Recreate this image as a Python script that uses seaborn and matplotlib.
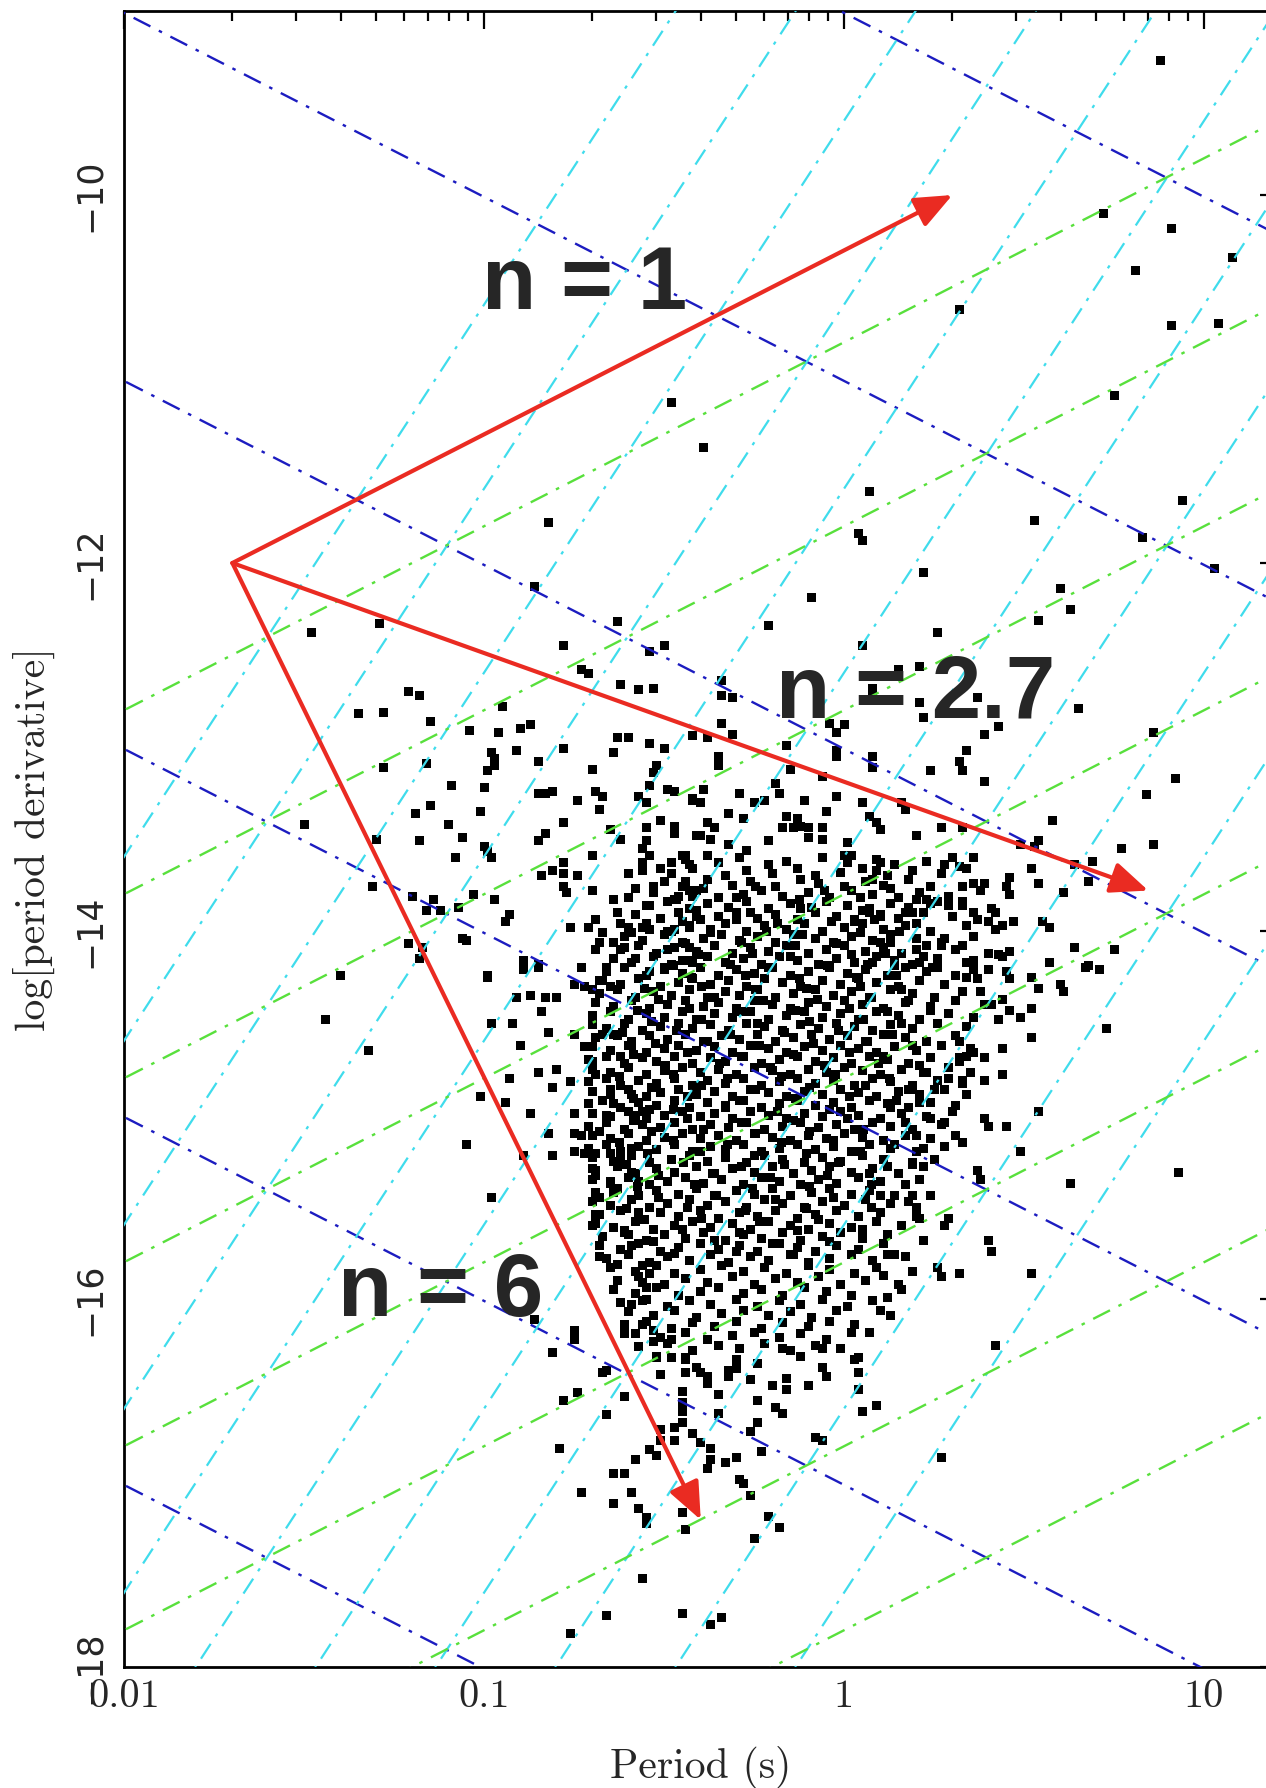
import numpy as np
import pandas as pd
import matplotlib
matplotlib.use("Agg")
import matplotlib.pyplot as plt
import seaborn as sns
from matplotlib.ticker import LogLocator, NullFormatter

# reference lines: magnetic field (G), spin-down power (erg/s), characteristic age (yr)
b_field = [1e15, 1e14, 1e13, 1e12, 1e11, 1e10]
edot = [1e29, 1e30, 1e31, 1e32, 1e33, 1e34, 1e35, 1e36, 1e37, 1e38, 1e39]
tau_yr = [1e3, 1e4, 1e5, 1e6, 1e7, 1e8, 1e9, 1e10]

# braking index arrows, all starting at P = 0.02 s, log Pdot = -12
arrow_start = (0.02, -12.0)
arrow_names = ["n = 1", "n = 2.7", "n = 6"]
arrow_end_p = [2.0, 7.0, 0.4]
arrow_end_pdot = [-10.0, -13.78, -17.2]
label_p = [0.19, 1.58, 0.076]
label_pdot = [-10.62, -12.84, -16.09]

# pulsars (log10 P, log10 Pdot) - outskirts
sparse_pts = [
    (-0.48,-11.13),(-0.39,-11.37),(-0.82,-11.78),
    (0.88,-9.27),(0.72,-10.10),(0.91,-10.18),(1.08,-10.34),(0.81,-10.41),(0.32,-10.62),(0.91,-10.71),
    (1.04,-10.70),(0.75,-11.09),(0.07,-11.61),(0.53,-11.77),(0.94,-11.66),(0.04,-11.84),(0.05,-11.88),(0.83,-11.86),
    (1.03,-12.03),(0.86,-12.92),(0.92,-13.17),(0.84,-13.26),(0.86,-13.53),(0.77,-13.55),(0.69,-13.62),
    (0.75,-14.10),(0.71,-14.21),(0.61,-14.33),(0.73,-14.53),(0.93,-15.31),
    (-1.48,-12.38),(-1.29,-12.33),(-0.86,-12.13),(-0.63,-12.32),(-0.78,-12.45),(-0.54,-12.48),(-0.50,-12.45),
    (-0.73,-12.58),(-0.71,-12.60),(-0.62,-12.66),(-0.57,-12.69),(-0.53,-12.68),(-1.21,-12.70),(-1.18,-12.72),
    (-1.35,-12.82),(-1.28,-12.81),(-1.15,-12.86),(-0.95,-12.78),(-1.04,-12.91),(-0.96,-12.92),(-0.90,-12.90),
    (-0.87,-12.88),(-0.63,-12.95),(-0.60,-12.95),(-0.54,-12.98),(-0.50,-13.01),(-0.42,-12.94),(-0.98,-13.03),
    (-0.97,-13.06),(-0.97,-13.10),(-0.99,-13.13),(-0.91,-13.02),(-0.85,-13.08),(-0.78,-13.01),(-0.64,-13.03),
    (-0.70,-13.12),(-0.52,-13.10),(-0.53,-13.14),(-1.16,-13.09),(-1.28,-13.11),(-1.09,-13.21),(-1.00,-13.22),
    (-0.85,-13.25),(-0.83,-13.25),(-0.81,-13.24),(-0.74,-13.29),(-0.69,-13.24),(-0.67,-13.27),(-0.68,-13.34),
    (-0.54,-13.21),(-0.49,-13.23),(-0.47,-13.24),(-0.57,-13.27),(-0.55,-13.30),(-0.42,-13.29),(-1.15,-13.32),
    (-1.19,-13.36),(-1.01,-13.35),(-1.50,-13.42),(-1.10,-13.42),(-0.78,-13.41),(-0.51,-13.40),(-0.55,-13.44),
    (-0.47,-13.43),(-0.47,-13.47),(-1.30,-13.50),(-1.18,-13.51),(-1.06,-13.49),(-0.85,-13.51),(-0.83,-13.47),
    (-0.65,-13.45),(-0.62,-13.50),(-0.55,-13.51),(-0.56,-13.55),(-0.54,-13.59),(-0.41,-13.48),(-1.00,-13.54),
    (-0.99,-13.57),(-0.98,-13.60),(-1.08,-13.60),(-0.70,-13.59),(-0.45,-13.59),(-0.48,-13.63),(-0.51,-13.66),
    (-0.56,-13.67),(-0.56,-13.63),(-0.78,-13.63),(-0.81,-13.67),(-0.78,-13.69),(-0.84,-13.70),(-0.74,-13.70),
    (-0.60,-13.69),(-0.78,-13.76),(-0.77,-13.79),(-0.70,-13.78),(-0.58,-13.77),(-0.53,-13.76),(-0.44,-13.73),
    (-0.43,-13.78),(-0.42,-13.81),(-1.31,-13.76),(-1.20,-13.81),(-1.14,-13.83),(-1.16,-13.89),(-1.12,-13.89),
    (-1.07,-13.87),(-1.03,-13.80),(-0.97,-13.83),(-0.93,-13.91),(-0.94,-13.95),(-0.64,-13.83),(-0.60,-13.82),
    (-0.54,-13.86),(-0.47,-13.83),(-0.63,-13.90),(-0.62,-13.96),(-0.76,-13.98),(-0.71,-13.98),(-0.69,-13.94),
    (-0.67,-14.01),(-0.68,-14.06),(-0.69,-14.10),(-0.59,-14.01),(-0.56,-13.98),(-0.54,-13.99),(-0.64,-14.06),
    (-0.61,-14.09),(-0.58,-14.15),(-0.49,-14.00),(-0.47,-13.99),(-0.43,-13.98),(-0.41,-13.92),(-0.49,-14.10),
    (-0.43,-14.09),(-1.06,-14.04),(-1.05,-14.05),(-1.21,-14.07),(-1.17,-14.09),(-1.18,-14.15),(-0.73,-14.20),
    (-0.66,-14.20),(-0.89,-14.16),(-0.89,-14.21),(-0.85,-14.18),(-0.45,-14.16),(-0.42,-14.17),(-0.54,-14.22),
    (-0.50,-14.20),(-0.99,-14.24),(-1.40,-14.24),
    (0.22,-12.05),(-0.09,-12.19),(-0.21,-12.34),(0.26,-12.38),(0.05,-12.45),(0.60,-12.14),(0.63,-12.25),
    (0.54,-12.31),(0.21,-12.56),(0.15,-12.58),(-0.34,-12.72),(-0.31,-12.73),(-0.34,-12.64),(0.08,-12.68),
    (0.08,-12.73),(0.21,-12.76),(0.22,-12.84),(0.37,-12.73),(0.65,-12.79),(0.43,-12.89),(0.39,-12.93),
    (-0.34,-12.87),(-0.31,-12.93),(-0.42,-12.94),(-0.38,-12.95),(-0.04,-12.87),(0.00,-12.88),(-0.02,-12.92),
    (-0.16,-12.99),(-0.15,-13.12),(-0.02,-13.02),(-0.02,-13.05),(0.08,-13.05),(0.08,-13.11),(-0.35,-13.05),
    (-0.35,-13.10),(0.34,-13.02),(0.32,-13.08),(0.33,-13.13),(0.24,-13.13),(0.39,-13.19),(-0.06,-13.16),
    (-0.19,-13.20),(-0.18,-13.25),(-0.29,-13.25),(-0.39,-13.23),(-0.42,-13.28),(-0.40,-13.30),(-0.25,-13.30),
    (-0.22,-13.29),(-0.11,-13.29),(-0.02,-13.27),(0.05,-13.30),(0.16,-13.30),(0.17,-13.34),(-0.05,-13.35),
    (-0.32,-13.36),(-0.28,-13.39),(-0.16,-13.38),(-0.13,-13.39),(-0.12,-13.43),(-0.10,-13.44),(-0.10,-13.49),
    (-0.14,-13.44),(-0.17,-13.44),(-0.38,-13.41),(-0.36,-13.44),(-0.40,-13.48),(-0.37,-13.50),(-0.32,-13.53),
    (-0.27,-13.56),(-0.21,-13.51),(-0.06,-13.44),(-0.06,-13.50),(0.07,-13.38),(0.09,-13.41),(0.10,-13.45),
    (0.20,-13.48),(0.27,-13.44),(0.33,-13.44),(0.58,-13.40),(0.54,-13.51),(0.53,-13.54),(0.49,-13.53),
    (0.36,-13.60),(0.64,-13.64),(0.68,-13.73),(0.61,-13.79),(0.52,-13.66),(0.54,-13.74),(0.46,-13.71),
    (0.45,-13.76),(0.46,-13.80),(0.39,-13.74),(0.33,-13.76),(0.28,-13.64),(0.32,-13.65),(0.10,-13.63),
    (0.09,-13.67),(0.08,-13.72),(0.01,-13.52),(0.00,-13.59),(0.02,-13.59),(-0.44,-13.59),(-0.38,-13.59),
    (-0.43,-13.64),(-0.35,-13.63),(0.20,-13.83),(0.24,-13.85),(0.29,-13.86),(0.33,-13.84),(0.36,-13.90),
    (0.40,-13.95),(0.42,-13.90),(0.44,-13.97),(0.47,-13.95),(0.57,-13.98),(0.55,-13.95),(0.28,-14.04),
    (0.33,-14.08),(0.36,-14.16),(0.43,-14.13),(0.46,-14.11),(0.57,-14.17),(0.64,-14.09),(0.67,-14.20),
    (0.17,-13.90),(0.20,-14.10),(0.21,-14.17),(0.26,-14.20),(0.10,-13.92),(0.07,-13.90),(0.03,-13.95),
    (0.10,-14.06),(0.08,-14.17),(0.14,-14.19),
    (-1.44,-14.48),(-1.32,-14.65),(-0.99,-14.25),(-1.05,-15.16),(-0.98,-15.45),(-1.01,-14.90),(-0.94,-14.93),
    (-0.87,-14.99),(-0.89,-15.22),(-0.81,-15.22),(-0.93,-14.80),(-0.98,-14.50),(-0.92,-14.50),(-0.91,-14.36),
    (-0.87,-14.35),(-0.83,-14.36),(-0.80,-14.36),(-0.84,-14.44),(-0.82,-14.55),(-0.90,-14.62),(-0.85,-14.77),
    (-0.80,-14.75),(-0.81,-14.85),(-0.76,-14.82),(-0.75,-14.99),(-0.75,-15.10),(-0.73,-15.11),(-0.82,-15.10),
    (-0.89,-14.20),(-0.85,-14.20),(-0.75,-14.29),(-0.72,-14.30),(-0.70,-14.32),(-0.68,-14.27),(-0.65,-14.30),
    (-0.75,-14.56),(-0.72,-14.63),(-0.70,-14.71),(-0.69,-14.78),(-0.67,-14.56),(-0.63,-14.57),(-0.62,-14.68),
    (-0.59,-14.62),(-0.70,-14.49),(-0.65,-14.86),(-0.64,-14.94),(-0.66,-15.00),(-0.68,-15.09),(-0.59,-14.89),
    (-0.58,-15.00),(-0.56,-14.98),(-0.54,-14.97),(-0.75,-15.20),(-0.72,-15.21),(-0.69,-15.21),(-0.65,-15.21),
    (-0.70,-15.29),(-0.69,-15.33),(-0.65,-15.36),(-0.64,-15.42),(-0.68,-15.45),(-0.69,-15.54),(-0.70,-15.60),
    (-0.59,-15.18),(-0.62,-15.24),(-0.59,-15.31),(-0.57,-15.36),(-0.57,-15.53),(-0.60,-15.65),(-0.59,-15.71),
    (-0.68,-15.77),(-0.63,-15.81),(-0.56,-15.82),(-0.54,-15.86),(-0.56,-15.91),(-0.55,-15.94),(-0.59,-16.03),
    (-0.56,-16.01),(-0.56,-16.14),(-0.53,-16.17),(-0.53,-16.23),(-0.52,-16.31),(-0.61,-16.19),(-0.48,-16.22),
    (-0.44,-16.32),(-0.66,-16.39),(-0.75,-16.17),(-0.75,-16.22),(-0.81,-16.29),(-0.86,-16.11),(-0.51,-16.41),
    (-0.44,-16.40),
    (0.60,-14.29),(0.54,-14.31),(0.68,-14.19),(0.52,-14.42),(0.49,-14.47),(0.52,-14.58),(0.44,-14.64),
    (0.44,-14.78),(0.39,-14.81),(0.54,-14.98),(0.39,-15.02),(0.40,-15.06),(0.45,-15.06),(0.49,-15.20),
    (0.63,-15.37),(0.37,-15.30),(0.38,-15.35),(0.34,-14.89),(0.33,-14.81),(0.40,-15.68),(0.41,-15.74),
    (0.52,-15.86),(0.32,-15.86),(0.26,-15.83),(0.27,-15.88),(0.42,-16.25),(0.21,-15.56),(0.28,-15.60),
    (0.29,-15.56),(0.22,-15.68),(0.18,-15.47),(0.20,-15.55),(0.11,-15.87),(0.12,-15.76),(0.14,-15.76),
    (0.07,-16.18),(0.04,-16.32),(0.12,-15.99),(0.10,-16.06),(0.43,-14.48),(0.46,-14.43),(0.44,-14.37),
    (0.38,-14.33),(0.41,-14.40),(0.36,-14.21),(0.34,-14.25),(0.45,-14.22),(0.46,-14.26),(0.52,-14.25),
    (0.32,-14.60),(0.34,-14.68),(0.36,-14.66),(0.32,-14.69),(0.35,-14.77),(0.39,-14.69),
    (0.21,-14.73),(0.23,-14.77),(0.25,-14.86),(0.29,-14.80),(0.19,-14.86),(0.21,-14.93),(0.24,-15.02),
    (0.28,-15.04),(0.31,-15.11),(0.33,-15.15),(0.20,-15.11),(0.22,-15.18),(0.25,-15.24),(0.19,-15.27),
    (0.21,-15.35),(0.24,-15.44),(0.19,-15.44),
    (-0.67,-16.40),(-0.74,-16.51),(-0.78,-16.55),(-0.61,-16.53),(-0.66,-16.63),(-0.79,-16.81),(-0.73,-17.05),
    (-0.64,-16.95),(-0.61,-16.95),(-0.59,-17.05),(-0.64,-17.11),(-0.57,-17.14),(-0.55,-17.19),(-0.55,-17.22),
    (-0.58,-16.87),(-0.54,-16.82),(-0.52,-16.85),(-0.51,-16.71),(-0.51,-16.77),(-0.47,-16.77),(-0.47,-16.70),
    (-0.45,-16.67),(-0.45,-16.61),(-0.45,-16.56),(-0.45,-16.50),(-0.51,-16.41),(-0.52,-16.32),(-0.48,-16.32),
    (-0.44,-16.33),(-0.41,-16.37),(-0.40,-16.40),(-0.38,-16.42),(-0.38,-16.46),(-0.35,-16.52),(-0.42,-16.73),
    (-0.40,-16.78),(-0.37,-16.81),(-0.37,-16.87),(-0.38,-16.92),(-0.33,-16.89),(-0.35,-16.62),(-0.30,-16.86),
    (-0.32,-16.39),(-0.32,-16.42),(-0.30,-16.38),(-0.26,-16.44),(-0.24,-16.35),(-0.30,-16.33),(-0.24,-16.55),
    (-0.24,-16.67),(-0.26,-16.72),(-0.29,-16.98),(-0.28,-17.00),(-0.26,-17.07),(-0.23,-16.83),(-0.21,-17.18),
    (-0.18,-17.24),(-0.25,-17.30),(-0.45,-17.16),(-0.44,-17.25),(-0.20,-16.47),(-0.16,-16.43),(-0.16,-16.49),
    (-0.10,-16.47),(-0.19,-16.59),(-0.17,-16.62),(-0.17,-16.27),(-0.12,-16.31),(-0.06,-16.27),(-0.06,-16.37),
    (-0.05,-16.42),(0.03,-16.33),(0.04,-16.40),(0.04,-16.49),(0.05,-16.61),(0.09,-16.58),(-0.08,-16.75),
    (-0.06,-16.77),(0.27,-16.86),(-0.56,-17.52),(-0.66,-17.72),(-0.45,-17.71),(-0.37,-17.77),(-0.34,-17.73),
    (-0.76,-17.82),
]

# pulsars (log10 P, log10 Pdot) - dense core, estimated row by row
core_pts = [
    (-0.44,-13.61),(-0.35,-13.63),(-0.29,-13.60),(-0.21,-13.64),(-0.16,-13.62),(-0.06,-13.60),(0.01,-13.63),(0.09,-13.61),(0.14,-13.64),(0.23,-13.62),(0.30,-13.60),
    (-0.48,-13.69),(-0.42,-13.66),(-0.33,-13.70),(-0.27,-13.67),(-0.20,-13.69),(-0.13,-13.66),(-0.08,-13.70),(-0.01,-13.68),(0.05,-13.66),(0.12,-13.70),(0.19,-13.67),(0.27,-13.69),(0.34,-13.66),
    (-0.50,-13.73),(-0.45,-13.76),(-0.38,-13.72),(-0.31,-13.75),(-0.26,-13.73),(-0.19,-13.76),(-0.12,-13.72),(-0.07,-13.74),(0.00,-13.76),(0.06,-13.73),(0.11,-13.75),(0.18,-13.72),(0.24,-13.76),(0.36,-13.74),
    (-0.53,-13.79),(-0.46,-13.81),(-0.41,-13.78),(-0.35,-13.82),(-0.28,-13.80),(-0.23,-13.78),(-0.17,-13.81),(-0.10,-13.79),(-0.04,-13.82),(0.02,-13.78),(0.08,-13.80),(0.15,-13.82),(0.21,-13.79),(0.29,-13.81),(0.38,-13.78),
    (-0.55,-13.86),(-0.49,-13.84),(-0.43,-13.88),(-0.38,-13.85),(-0.32,-13.87),(-0.27,-13.84),(-0.21,-13.88),(-0.15,-13.85),(-0.09,-13.87),(-0.05,-13.84),(0.01,-13.86),(0.07,-13.88),(0.13,-13.85),(0.18,-13.87),(0.26,-13.84),(0.33,-13.86),(0.41,-13.88),
    (-0.58,-13.91),(-0.51,-13.93),(-0.46,-13.90),(-0.40,-13.94),(-0.35,-13.92),(-0.30,-13.90),(-0.24,-13.93),(-0.19,-13.91),(-0.13,-13.94),(-0.08,-13.90),(-0.02,-13.92),(0.03,-13.94),(0.10,-13.91),(0.15,-13.93),(0.22,-13.90),(0.30,-13.92),(0.37,-13.94),
    (-0.60,-13.98),(-0.55,-13.96),(-0.48,-14.00),(-0.43,-13.97),(-0.37,-13.99),(-0.33,-13.96),(-0.27,-14.00),(-0.22,-13.97),(-0.16,-13.99),(-0.11,-13.96),(-0.06,-14.00),(0.00,-13.98),(0.05,-13.96),(0.11,-13.99),(0.17,-13.97),(0.24,-14.00),(0.34,-13.97),(0.42,-13.99),
    (-0.61,-14.03),(-0.56,-14.05),(-0.50,-14.02),(-0.45,-14.06),(-0.39,-14.04),(-0.34,-14.02),(-0.29,-14.05),(-0.24,-14.03),(-0.19,-14.06),(-0.14,-14.02),(-0.08,-14.04),(-0.03,-14.06),(0.02,-14.03),(0.08,-14.05),(0.13,-14.02),(0.20,-14.04),(0.27,-14.06),(0.36,-14.03),
    (-0.62,-14.10),(-0.57,-14.08),(-0.52,-14.12),(-0.47,-14.09),(-0.41,-14.11),(-0.36,-14.08),(-0.31,-14.12),(-0.26,-14.09),(-0.21,-14.11),(-0.16,-14.08),(-0.10,-14.12),(-0.05,-14.10),(0.00,-14.08),(0.06,-14.11),(0.11,-14.09),(0.16,-14.12),(0.23,-14.08),(0.31,-14.10),(0.40,-14.12),
    (-0.64,-14.15),(-0.59,-14.17),(-0.53,-14.14),(-0.48,-14.18),(-0.43,-14.16),(-0.38,-14.14),(-0.33,-14.17),(-0.28,-14.15),(-0.23,-14.18),(-0.18,-14.14),(-0.13,-14.16),(-0.07,-14.18),(-0.02,-14.15),(0.03,-14.17),(0.09,-14.14),(0.14,-14.16),(0.19,-14.18),(0.26,-14.15),(0.34,-14.17),(0.44,-14.14),
    (-0.66,-14.22),(-0.61,-14.20),(-0.55,-14.24),(-0.50,-14.21),(-0.45,-14.23),(-0.40,-14.20),(-0.35,-14.24),(-0.30,-14.21),(-0.25,-14.23),(-0.20,-14.20),(-0.15,-14.24),(-0.10,-14.22),(-0.04,-14.20),(0.01,-14.23),(0.06,-14.21),(0.12,-14.24),(0.17,-14.20),(0.23,-14.22),(0.31,-14.24),(0.40,-14.21),
    (-0.67,-14.27),(-0.62,-14.29),(-0.57,-14.26),(-0.51,-14.30),(-0.46,-14.28),(-0.42,-14.26),(-0.37,-14.29),(-0.32,-14.27),(-0.27,-14.30),(-0.22,-14.26),(-0.17,-14.28),(-0.12,-14.30),(-0.06,-14.27),(-0.01,-14.29),(0.04,-14.26),(0.09,-14.28),(0.15,-14.30),(0.21,-14.27),(0.28,-14.29),(0.37,-14.26),
    (-0.68,-14.34),(-0.63,-14.32),(-0.58,-14.36),(-0.53,-14.33),(-0.48,-14.35),(-0.43,-14.32),(-0.38,-14.36),(-0.33,-14.33),(-0.29,-14.35),(-0.24,-14.32),(-0.19,-14.36),(-0.14,-14.34),(-0.08,-14.32),(-0.03,-14.35),(0.02,-14.33),(0.07,-14.36),(0.13,-14.32),(0.19,-14.34),(0.25,-14.36),(0.33,-14.33),
    (-0.69,-14.39),(-0.64,-14.41),(-0.59,-14.38),(-0.54,-14.42),(-0.49,-14.40),(-0.44,-14.38),(-0.39,-14.41),(-0.35,-14.39),(-0.30,-14.42),(-0.25,-14.38),(-0.20,-14.40),(-0.15,-14.42),(-0.10,-14.39),(-0.05,-14.41),(0.00,-14.38),(0.05,-14.40),(0.11,-14.42),(0.17,-14.39),(0.24,-14.41),(0.31,-14.38),(0.39,-14.40),
    (-0.70,-14.46),(-0.65,-14.44),(-0.60,-14.48),(-0.55,-14.45),(-0.50,-14.47),(-0.45,-14.44),(-0.41,-14.48),(-0.36,-14.45),(-0.31,-14.47),(-0.26,-14.44),(-0.21,-14.48),(-0.16,-14.46),(-0.11,-14.44),(-0.06,-14.47),(-0.01,-14.45),(0.04,-14.48),(0.09,-14.44),(0.15,-14.46),(0.21,-14.48),(0.29,-14.45),(0.36,-14.47),
    (-0.70,-14.51),(-0.66,-14.53),(-0.61,-14.50),(-0.56,-14.54),(-0.51,-14.52),(-0.46,-14.50),(-0.42,-14.53),(-0.37,-14.51),(-0.32,-14.54),(-0.27,-14.50),(-0.22,-14.52),(-0.17,-14.54),(-0.12,-14.51),(-0.07,-14.53),(-0.02,-14.50),(0.03,-14.52),(0.08,-14.54),(0.13,-14.51),(0.19,-14.53),(0.26,-14.50),(0.34,-14.52),
    (-0.69,-14.58),(-0.64,-14.56),(-0.59,-14.60),(-0.54,-14.57),(-0.49,-14.59),(-0.44,-14.56),(-0.39,-14.60),(-0.34,-14.57),(-0.29,-14.59),(-0.24,-14.56),(-0.19,-14.60),(-0.14,-14.58),(-0.09,-14.56),(-0.04,-14.59),(0.01,-14.57),(0.06,-14.60),(0.11,-14.56),(0.17,-14.58),(0.23,-14.60),(0.31,-14.57),
    (-0.70,-14.63),(-0.65,-14.65),(-0.60,-14.62),(-0.55,-14.66),(-0.50,-14.64),(-0.46,-14.62),(-0.41,-14.65),(-0.36,-14.63),(-0.31,-14.66),(-0.26,-14.62),(-0.21,-14.64),(-0.16,-14.66),(-0.11,-14.63),(-0.06,-14.65),(-0.01,-14.62),(0.04,-14.64),(0.09,-14.66),(0.14,-14.63),(0.20,-14.65),(0.27,-14.62),(0.35,-14.64),
    (-0.71,-14.70),(-0.66,-14.68),(-0.61,-14.72),(-0.56,-14.69),(-0.52,-14.71),(-0.47,-14.68),(-0.42,-14.72),(-0.37,-14.69),(-0.33,-14.71),(-0.28,-14.68),(-0.23,-14.72),(-0.18,-14.70),(-0.13,-14.68),(-0.08,-14.71),(-0.03,-14.69),(0.02,-14.72),(0.07,-14.68),(0.12,-14.70),(0.18,-14.72),(0.24,-14.69),(0.32,-14.71),
    (-0.70,-14.75),(-0.65,-14.77),(-0.60,-14.74),(-0.55,-14.78),(-0.50,-14.76),(-0.45,-14.74),(-0.40,-14.77),(-0.35,-14.75),(-0.30,-14.78),(-0.25,-14.74),(-0.20,-14.76),(-0.15,-14.78),(-0.10,-14.75),(-0.05,-14.77),(0.00,-14.74),(0.05,-14.76),(0.10,-14.78),(0.16,-14.75),(0.22,-14.77),(0.29,-14.74),
    (-0.71,-14.82),(-0.66,-14.80),(-0.62,-14.84),(-0.57,-14.81),(-0.52,-14.83),(-0.47,-14.80),(-0.42,-14.84),(-0.38,-14.81),(-0.33,-14.83),(-0.28,-14.80),(-0.23,-14.84),(-0.18,-14.82),(-0.13,-14.80),(-0.08,-14.83),(-0.03,-14.81),(0.03,-14.84),(0.08,-14.80),(0.13,-14.82),(0.19,-14.84),(0.26,-14.81),(0.33,-14.83),
    (-0.70,-14.87),(-0.65,-14.89),(-0.60,-14.86),(-0.55,-14.90),(-0.51,-14.88),(-0.46,-14.86),(-0.41,-14.89),(-0.36,-14.87),(-0.31,-14.90),(-0.26,-14.86),(-0.21,-14.88),(-0.16,-14.90),(-0.11,-14.87),(-0.06,-14.89),(-0.01,-14.86),(0.04,-14.88),(0.09,-14.90),(0.15,-14.87),(0.21,-14.89),(0.28,-14.86),
    (-0.71,-14.94),(-0.67,-14.92),(-0.62,-14.96),(-0.57,-14.93),(-0.52,-14.95),(-0.47,-14.92),(-0.43,-14.96),(-0.38,-14.93),(-0.33,-14.95),(-0.28,-14.92),(-0.23,-14.96),(-0.18,-14.94),(-0.13,-14.92),(-0.08,-14.95),(-0.03,-14.93),(0.02,-14.96),(0.07,-14.92),(0.12,-14.94),(0.18,-14.96),(0.24,-14.93),(0.31,-14.95),
    (-0.70,-14.99),(-0.65,-15.01),(-0.60,-14.98),(-0.55,-15.02),(-0.50,-15.00),(-0.45,-14.98),(-0.40,-15.01),(-0.36,-14.99),(-0.31,-15.02),(-0.26,-14.98),(-0.21,-15.00),(-0.16,-15.02),(-0.11,-14.99),(-0.06,-15.01),(-0.01,-14.98),(0.04,-15.00),(0.10,-15.02),(0.16,-14.99),(0.23,-15.01),(0.30,-14.98),
    (-0.71,-15.06),(-0.66,-15.04),(-0.61,-15.08),(-0.56,-15.05),(-0.51,-15.07),(-0.47,-15.04),(-0.42,-15.08),(-0.37,-15.05),(-0.32,-15.07),(-0.27,-15.04),(-0.22,-15.08),(-0.17,-15.06),(-0.12,-15.04),(-0.07,-15.07),(-0.02,-15.05),(0.03,-15.08),(0.08,-15.04),(0.13,-15.06),(0.19,-15.08),(0.27,-15.05),
    (-0.70,-15.11),(-0.65,-15.13),(-0.60,-15.10),(-0.55,-15.14),(-0.50,-15.12),(-0.45,-15.10),(-0.40,-15.13),(-0.35,-15.11),(-0.30,-15.14),(-0.25,-15.10),(-0.20,-15.12),(-0.15,-15.14),(-0.10,-15.11),(-0.05,-15.13),(0.00,-15.10),(0.05,-15.12),(0.11,-15.14),(0.17,-15.11),(0.24,-15.13),
    (-0.71,-15.18),(-0.66,-15.16),(-0.62,-15.20),(-0.57,-15.17),(-0.52,-15.19),(-0.47,-15.16),(-0.42,-15.20),(-0.37,-15.17),(-0.33,-15.19),(-0.28,-15.16),(-0.23,-15.20),(-0.18,-15.18),(-0.13,-15.16),(-0.08,-15.19),(-0.03,-15.17),(0.02,-15.20),(0.07,-15.16),(0.13,-15.18),(0.20,-15.20),(0.28,-15.17),
    (-0.70,-15.23),(-0.64,-15.25),(-0.59,-15.22),(-0.54,-15.26),(-0.48,-15.24),(-0.43,-15.22),(-0.38,-15.25),(-0.33,-15.23),(-0.27,-15.26),(-0.22,-15.22),(-0.17,-15.24),(-0.11,-15.26),(-0.06,-15.23),(-0.01,-15.25),(0.05,-15.22),(0.11,-15.24),(0.19,-15.26),
    (-0.69,-15.30),(-0.63,-15.28),(-0.58,-15.32),(-0.52,-15.29),(-0.47,-15.31),(-0.41,-15.28),(-0.36,-15.32),(-0.31,-15.29),(-0.25,-15.31),(-0.20,-15.28),(-0.14,-15.32),(-0.09,-15.30),(-0.04,-15.28),(0.02,-15.31),(0.08,-15.29),(0.15,-15.32),(0.22,-15.28),
    (-0.70,-15.35),(-0.65,-15.37),(-0.60,-15.34),(-0.54,-15.38),(-0.49,-15.36),(-0.44,-15.34),(-0.39,-15.37),(-0.34,-15.35),(-0.28,-15.38),(-0.23,-15.34),(-0.18,-15.36),(-0.12,-15.38),(-0.07,-15.35),(-0.02,-15.37),(0.04,-15.34),(0.10,-15.36),(0.17,-15.38),
    (-0.69,-15.42),(-0.63,-15.40),(-0.57,-15.44),(-0.52,-15.41),(-0.46,-15.43),(-0.41,-15.40),(-0.36,-15.44),(-0.30,-15.41),(-0.25,-15.43),(-0.20,-15.40),(-0.15,-15.44),(-0.09,-15.42),(-0.04,-15.40),(0.02,-15.43),(0.07,-15.41),(0.14,-15.44),
    (-0.70,-15.47),(-0.65,-15.49),(-0.59,-15.46),(-0.54,-15.50),(-0.49,-15.48),(-0.43,-15.46),(-0.38,-15.49),(-0.33,-15.47),(-0.27,-15.50),(-0.22,-15.46),(-0.17,-15.48),(-0.11,-15.50),(-0.06,-15.47),(0.00,-15.49),(0.06,-15.46),(0.13,-15.48),(0.20,-15.50),
    (-0.68,-15.54),(-0.62,-15.52),(-0.57,-15.56),(-0.51,-15.53),(-0.46,-15.55),(-0.40,-15.52),(-0.35,-15.56),(-0.29,-15.53),(-0.24,-15.55),(-0.19,-15.52),(-0.13,-15.56),(-0.08,-15.54),(-0.02,-15.52),(0.04,-15.55),(0.10,-15.53),
    (-0.69,-15.59),(-0.64,-15.61),(-0.58,-15.58),(-0.53,-15.62),(-0.47,-15.60),(-0.42,-15.58),(-0.37,-15.61),(-0.31,-15.59),(-0.26,-15.62),(-0.21,-15.58),(-0.15,-15.60),(-0.10,-15.62),(-0.04,-15.59),(0.02,-15.61),(0.09,-15.58),(0.16,-15.60),
    (-0.67,-15.66),(-0.61,-15.64),(-0.55,-15.68),(-0.50,-15.65),(-0.44,-15.67),(-0.39,-15.64),(-0.33,-15.68),(-0.28,-15.65),(-0.23,-15.67),(-0.17,-15.64),(-0.12,-15.68),(-0.06,-15.66),(-0.01,-15.64),(0.05,-15.67),(0.12,-15.65),
    (-0.68,-15.71),(-0.62,-15.73),(-0.57,-15.70),(-0.51,-15.74),(-0.46,-15.72),(-0.40,-15.70),(-0.35,-15.73),(-0.29,-15.71),(-0.24,-15.74),(-0.18,-15.70),(-0.13,-15.72),(-0.08,-15.74),(-0.02,-15.71),(0.04,-15.73),(0.11,-15.70),
    (-0.66,-15.78),(-0.60,-15.76),(-0.54,-15.80),(-0.49,-15.77),(-0.43,-15.79),(-0.37,-15.76),(-0.32,-15.80),(-0.26,-15.77),(-0.21,-15.79),(-0.15,-15.76),(-0.10,-15.80),(-0.04,-15.78),(0.02,-15.76),(0.08,-15.79),(0.17,-15.77),
    (-0.65,-15.83),(-0.58,-15.85),(-0.52,-15.82),(-0.47,-15.86),(-0.40,-15.84),(-0.34,-15.82),(-0.28,-15.85),(-0.22,-15.83),(-0.16,-15.86),(-0.10,-15.82),(-0.04,-15.84),(0.03,-15.86),(0.09,-15.83),(0.19,-15.85),
    (-0.63,-15.90),(-0.57,-15.88),(-0.50,-15.92),(-0.44,-15.89),(-0.38,-15.91),(-0.31,-15.88),(-0.25,-15.92),(-0.19,-15.89),(-0.13,-15.91),(-0.07,-15.88),(-0.01,-15.92),(0.06,-15.90),(0.15,-15.92),
    (-0.64,-15.95),(-0.58,-15.97),(-0.52,-15.94),(-0.46,-15.98),(-0.40,-15.96),(-0.35,-15.94),(-0.28,-15.97),(-0.23,-15.95),(-0.17,-15.98),(-0.11,-15.94),(-0.05,-15.96),(0.02,-15.98),(0.16,-15.95),
    (-0.62,-16.02),(-0.55,-16.00),(-0.49,-16.04),(-0.43,-16.01),(-0.37,-16.03),(-0.30,-16.00),(-0.24,-16.04),(-0.18,-16.01),(-0.12,-16.03),(-0.06,-16.00),(0.01,-16.04),(0.08,-16.01),
    (-0.60,-16.07),(-0.53,-16.09),(-0.47,-16.06),(-0.41,-16.10),(-0.34,-16.08),(-0.28,-16.06),(-0.21,-16.09),(-0.15,-16.07),(-0.09,-16.10),(-0.02,-16.06),(0.13,-16.09),
    (-0.61,-16.14),(-0.55,-16.12),(-0.48,-16.16),(-0.42,-16.13),(-0.36,-16.15),(-0.30,-16.12),(-0.23,-16.16),(-0.17,-16.13),(-0.10,-16.15),(-0.04,-16.12),(0.03,-16.14),
    (-0.58,-16.19),(-0.51,-16.21),(-0.44,-16.18),(-0.38,-16.22),(-0.31,-16.20),(-0.25,-16.18),(-0.18,-16.21),(-0.12,-16.19),(-0.05,-16.22),(0.02,-16.18),
    (-0.57,-16.26),(-0.49,-16.24),(-0.42,-16.28),(-0.35,-16.25),(-0.29,-16.27),(-0.22,-16.24),(-0.15,-16.28),(-0.08,-16.25),(-0.01,-16.27),
]

# extra pulsars filling the darkest part of the core
core_extra_pts = [
    (-0.39,-13.77),(-0.245,-13.76),(-0.055,-13.78),(0.13,-13.77),
    (-0.465,-13.83),(-0.30,-13.82),(-0.125,-13.83),(0.045,-13.82),(0.23,-13.83),
    (-0.41,-13.89),(-0.26,-13.90),(-0.12,-13.88),(0.05,-13.89),(0.19,-13.90),
    (-0.45,-13.95),(-0.30,-13.94),(-0.185,-13.96),(-0.035,-13.95),(0.085,-13.94),(0.20,-13.96),
    (-0.37,-14.01),(-0.215,-14.00),(-0.115,-14.02),(0.045,-14.01),(0.155,-14.00),
    (-0.44,-14.07),(-0.285,-14.06),(-0.135,-14.08),(-0.02,-14.07),(0.13,-14.06),(0.27,-14.08),
    (-0.405,-14.13),(-0.255,-14.12),(-0.15,-14.14),(0.02,-14.13),(0.115,-14.12),(0.22,-14.14),
    (-0.475,-14.19),(-0.315,-14.18),(-0.21,-14.20),(-0.045,-14.19),(0.065,-14.18),(0.245,-14.20),
    (-0.425,-14.25),(-0.275,-14.24),(-0.125,-14.26),(0.035,-14.25),(0.145,-14.24),
    (-0.555,-14.31),(-0.395,-14.30),(-0.245,-14.32),(-0.105,-14.31),(0.045,-14.30),(0.16,-14.32),
    (-0.515,-14.37),(-0.36,-14.36),(-0.225,-14.38),(-0.075,-14.37),(0.075,-14.36),(0.18,-14.38),
    (-0.575,-14.43),(-0.43,-14.42),(-0.285,-14.44),(-0.135,-14.43),(0.015,-14.42),(0.12,-14.44),(0.24,-14.43),
    (-0.535,-14.49),(-0.395,-14.48),(-0.24,-14.50),(-0.095,-14.49),(0.055,-14.48),(0.16,-14.50),
    (-0.615,-14.55),(-0.465,-14.54),(-0.315,-14.56),(-0.165,-14.55),(-0.015,-14.54),(0.135,-14.56),
    (-0.525,-14.61),(-0.38,-14.60),(-0.235,-14.62),(-0.085,-14.61),(0.065,-14.60),(0.19,-14.62),
    (-0.585,-14.67),(-0.435,-14.66),(-0.285,-14.68),(-0.14,-14.67),(0.015,-14.66),(0.11,-14.68),
    (-0.495,-14.73),(-0.345,-14.72),(-0.205,-14.74),(-0.055,-14.73),(0.095,-14.72),
    (-0.625,-14.79),(-0.475,-14.78),(-0.325,-14.80),(-0.175,-14.79),(-0.025,-14.78),(0.125,-14.80),
    (-0.535,-14.85),(-0.395,-14.84),(-0.245,-14.86),(-0.095,-14.85),(0.06,-14.84),(0.18,-14.86),
    (-0.585,-14.91),(-0.435,-14.90),(-0.29,-14.92),(-0.135,-14.91),(0.015,-14.90),(0.145,-14.92),
    (-0.475,-14.97),(-0.33,-14.96),(-0.185,-14.98),(-0.04,-14.97),(0.13,-14.96),
    (-0.585,-15.03),(-0.435,-15.02),(-0.285,-15.04),(-0.14,-15.03),(0.01,-15.02),(0.17,-15.04),
    (-0.535,-15.09),(-0.39,-15.08),(-0.245,-15.10),(-0.095,-15.09),(0.055,-15.08),
    (-0.625,-15.15),(-0.475,-15.14),(-0.325,-15.16),(-0.175,-15.15),(-0.03,-15.14),(0.14,-15.16),
    (-0.545,-15.21),(-0.40,-15.20),(-0.25,-15.22),(-0.105,-15.21),(0.045,-15.20),
    (-0.605,-15.27),(-0.445,-15.26),(-0.285,-15.28),(-0.165,-15.27),(-0.015,-15.26),(0.12,-15.28),
    (-0.515,-15.33),(-0.365,-15.32),(-0.205,-15.34),(-0.045,-15.33),(0.07,-15.32),
    (-0.575,-15.39),(-0.415,-15.38),(-0.255,-15.40),(-0.095,-15.39),(0.075,-15.38),
    (-0.515,-15.45),(-0.355,-15.44),(-0.19,-15.46),(-0.03,-15.45),(0.10,-15.44),
    (-0.605,-15.51),(-0.435,-15.50),(-0.275,-15.52),(-0.105,-15.51),(0.075,-15.50),
    (-0.555,-15.57),(-0.395,-15.56),(-0.235,-15.58),(-0.07,-15.57),
    (-0.61,-15.63),(-0.45,-15.62),(-0.29,-15.64),(-0.13,-15.63),(0.05,-15.62),
    (-0.53,-15.69),(-0.36,-15.68),(-0.20,-15.70),(-0.04,-15.69),
    (-0.47,-15.75),(-0.30,-15.74),(-0.14,-15.76),
]

blue, cyan, green, red = "#1c1cc0", "#3fdcec", "#58e03c", "#ea2b22"

sns.set_theme(style="white")
plt.rcParams["font.family"] = ["DejaVu Sans"]

fig = plt.figure(figsize=(12.66, 17.88), dpi=100)
ax = fig.add_axes([0.09795, 0.06767, 0.91114, 0.92617])

pulsars = pd.DataFrame(sparse_pts + core_pts + core_extra_pts, columns=["logp", "logpdot"])
pulsars["P"] = 10 ** pulsars["logp"]
sns.scatterplot(data=pulsars, x="P", y="logpdot", marker="s", s=42, color="black",
                edgecolor="none", linewidth=0, ax=ax, zorder=2, legend=False)

ax.set_xscale("log")
p_line = np.array([0.005, 30.0])
dash = (0, (8, 4, 1.5, 4))
for b in b_field:
    ax.plot(p_line, np.log10((b / 3.2e19) ** 2 / p_line), color=blue, ls=dash, lw=1.7, zorder=3)
for e in edot:
    ax.plot(p_line, np.log10(e * p_line ** 3 / (4 * np.pi ** 2 * 1e45)), color=cyan, ls=dash, lw=1.6, zorder=3)
for t in tau_yr:
    ax.plot(p_line, np.log10(p_line / (2 * t * 3.156e7)), color=green, ls=dash, lw=1.7, zorder=3)

for name, pe, ye, pl, yl in zip(arrow_names, arrow_end_p, arrow_end_pdot, label_p, label_pdot):
    ax.annotate("", xy=(pe, ye), xytext=arrow_start,
                arrowprops=dict(arrowstyle="-|>,head_length=0.5,head_width=0.21", mutation_scale=46,
                                color=red, lw=3.0, shrinkA=0, shrinkB=0), zorder=5)
    ax.text(pl, yl, name, fontsize=64, fontweight="bold", family=["Liberation Sans", "DejaVu Sans"],
            ha="center", va="baseline", zorder=6)

ax.set_xlim(0.01, 16)
ax.set_ylim(-18, -9)
ax.set_xticks([0.01, 0.1, 1, 10])
ax.set_xticklabels(["0.01", "0.1", "1", "10"], fontsize=29, family="cmr10")
ax.xaxis.set_minor_locator(LogLocator(base=10, subs=np.arange(2, 10)))
ax.xaxis.set_minor_formatter(NullFormatter())
ax.set_yticks([-18, -16, -14, -12, -10])
ax.set_yticklabels(["\u221218", "\u221216", "\u221214", "\u221212", "\u221210"],
                   fontsize=25, rotation=90, va="center")
ax.set_yticks(np.arange(-18, -8), minor=True)
ax.tick_params(which="both", direction="in", top=True, right=True, color="black", width=1.6)
ax.tick_params(which="major", length=13)
ax.tick_params(which="minor", length=7)
ax.tick_params(axis="x", which="major", pad=9)
ax.tick_params(axis="y", which="major", pad=12)
for s in ax.spines.values():
    s.set_color("black")
    s.set_linewidth(2.0)

ax.set_xlabel("Period (s)", fontsize=30, family="cmr10")
ax.set_ylabel("log[period derivative]", fontsize=30, family="cmr10")
ax.xaxis.set_label_coords(0.5, -0.0605)
ax.xaxis.label.set_va("center")
ax.yaxis.set_label_coords(-0.078, 0.5)
ax.yaxis.label.set_va("center")

fig.savefig("out.png", dpi=100)
